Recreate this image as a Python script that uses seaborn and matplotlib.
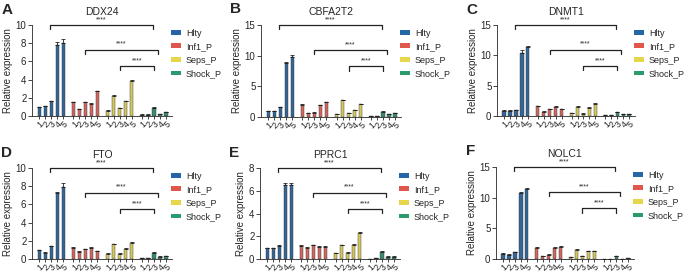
import numpy as np
import pandas as pd
import matplotlib
matplotlib.use('Agg')
import matplotlib.pyplot as plt
import seaborn as sns
from matplotlib.patches import Patch

sns.set_style('ticks')
plt.rcParams['font.family'] = ['Liberation Sans', 'DejaVu Sans']

# groups and colours
groups = ['Hlty', 'Inf1_P', 'Seps_P', 'Shock_P']
palette = ['#2466a6', '#e2574c', '#e6d64b', '#2b9a6c']
bar_labels = ['1', '2', '3', '4', '5']

genes = ['DDX24', 'CBFA2T2', 'DNMT1', 'FTO', 'PPRC1', 'NOLC1']
letters = ['A', 'B', 'C', 'D', 'E', 'F']
ymax = [10, 15, 15, 10, 8, 15]
ystep = [2, 5, 5, 2, 2, 5]

# values (Hlty, Inf1_P, Seps_P, Shock_P; 5 bars each)
ddx24 = [0.95, 1.05, 1.6, 7.8, 8.0,  1.5, 0.75, 1.5, 1.35, 2.7,
         0.6, 2.2, 0.85, 1.6, 3.9,  0.15, 0.15, 0.9, 0.2, 0.4]
cbfa2t2 = [0.9, 0.9, 1.6, 8.8, 9.8,  2.0, 0.6, 0.7, 1.9, 2.4,
           0.5, 2.7, 0.6, 1.1, 2.1,  0.15, 0.2, 0.8, 0.45, 0.6]
dnmt1 = [0.9, 0.9, 1.0, 10.4, 11.3,  1.6, 0.7, 1.1, 1.5, 1.1,
         0.5, 1.5, 0.4, 1.4, 2.0,  0.1, 0.2, 0.6, 0.3, 0.3]
fto = [0.95, 0.7, 1.4, 7.2, 7.9,  1.25, 0.8, 1.1, 1.25, 0.85,
       0.6, 1.6, 0.6, 1.15, 1.8,  0.1, 0.1, 0.7, 0.25, 0.3]
pprc1 = [0.95, 0.95, 1.15, 6.5, 6.5,  1.15, 1.0, 1.2, 1.05, 1.05,
         0.5, 1.2, 0.55, 1.25, 2.25,  0.03, 0.05, 0.65, 0.2, 0.2]
nolc1 = [0.85, 0.7, 1.1, 10.8, 11.4,  1.8, 0.45, 0.7, 1.8, 2.0,
         0.35, 1.5, 0.5, 1.25, 1.3,  0.02, 0.02, 0.5, 0.02, 0.1]

ddx24_err = [0.05, 0.05, 0.1, 0.3, 0.5,  0.05, 0.05, 0.05, 0.05, 0.05,
             0.05, 0.1, 0.05, 0.05, 0.1,  0.02, 0.02, 0.05, 0.02, 0.05]
cbfa2t2_err = [0.1, 0.1, 0.1, 0.2, 0.3,  0.1, 0.05, 0.05, 0.1, 0.1,
               0.05, 0.15, 0.05, 0.1, 0.1,  0.03, 0.03, 0.1, 0.05, 0.05]
dnmt1_err = [0.05, 0.05, 0.05, 0.4, 0.2,  0.1, 0.05, 0.05, 0.1, 0.1,
             0.05, 0.1, 0.05, 0.1, 0.1,  0.02, 0.03, 0.05, 0.03, 0.03]
fto_err = [0.05, 0.05, 0.05, 0.15, 0.5,  0.05, 0.05, 0.05, 0.05, 0.05,
           0.05, 0.1, 0.05, 0.05, 0.1,  0.02, 0.02, 0.05, 0.03, 0.03]
pprc1_err = [0.05, 0.05, 0.05, 0.15, 0.15,  0.05, 0.05, 0.05, 0.05, 0.05,
             0.05, 0.05, 0.05, 0.05, 0.08,  0.01, 0.02, 0.05, 0.02, 0.02]
nolc1_err = [0.1, 0.1, 0.1, 0.2, 0.2,  0.1, 0.05, 0.05, 0.1, 0.1,
             0.05, 0.1, 0.05, 0.05, 0.05,  0.01, 0.01, 0.05, 0.01, 0.02]

values = [ddx24, cbfa2t2, dnmt1, fto, pprc1, nolc1]
errors = [ddx24_err, cbfa2t2_err, dnmt1_err, fto_err, pprc1_err, nolc1_err]

# brackets: (group_a, bar_a, group_b, bar_b, height as fraction of ymax)
brackets = [(0, 1.8, 3, 1.8, 1.0), (1, 2.0, 3, 2.6, 0.73), (2, 2.0, 3, 2.0, 0.55)]

group_step = 5.7


def xpos(g, i):
    return g * group_step + i


xs = [xpos(g, i) for g in range(4) for i in range(5)]
hue = [grp for grp in groups for _ in range(5)]

fig = plt.figure(figsize=(6.85, 2.73), dpi=100)
lefts = [32, 261, 497, 32, 260, 496]
rights = [172, 401, 635, 172, 400, 634]
tops = [25, 25, 25, 168, 168, 167]
bottoms = [116, 117, 116, 259, 259, 259]

for k in range(6):
    l, r, t, b = lefts[k], rights[k], tops[k], bottoms[k]
    ax = fig.add_axes([l / 685, 1 - b / 273, (r - l) / 685, (b - t) / 273])
    df = pd.DataFrame({'x': xs, 'y': values[k], 'group': hue})
    sns.barplot(data=df, x='x', y='y', hue='group', palette=palette, native_scale=True,
                dodge=False, width=0.55, errorbar=None, legend=False, ax=ax,
                edgecolor='#333333', linewidth=0.3)
    ax.errorbar(xs, values[k], yerr=[np.zeros(20), errors[k]], fmt='none',
                ecolor='#222222', elinewidth=0.6, capsize=1.2, capthick=0.6)
    ax.set_xlim(-1.2, xpos(3, 4) + 1.0)
    ax.set_ylim(0, ymax[k])
    ax.set_yticks(np.arange(0, ymax[k] + 0.1, ystep[k]))
    ax.set_xticks(xs)
    ax.set_xticklabels(bar_labels * 4, rotation=45, ha='right', va='top',
                       rotation_mode='anchor', fontsize=6.3)
    ax.tick_params(axis='y', labelsize=7, length=3, width=0.6, pad=1)
    ax.tick_params(axis='x', length=2, width=0.6, pad=0.5)
    ax.set_xlabel('')
    ax.set_ylabel('Relative expression', fontsize=7, labelpad=2)
    for s in ['top', 'right']:
        ax.spines[s].set_visible(False)
    for s in ['left', 'bottom']:
        ax.spines[s].set_linewidth(0.6)
    ax.set_title(genes[k], fontsize=7.5, pad=7)
    ax.text(-0.22, 1.17, letters[k], transform=ax.transAxes, fontsize=11,
            fontweight='bold', ha='left', va='center')

    tick = ymax[k] * 0.045
    for ga, ba, gb, bb, frac in brackets:
        x1, x2 = xpos(ga, ba), xpos(gb, bb)
        yb = ymax[k] * frac
        ax.plot([x1, x1, x2, x2], [yb - tick, yb, yb, yb - tick], color='#222222',
                lw=0.9, clip_on=False)
        ax.text((x1 + x2) / 2, yb + ymax[k] * 0.02, '****', ha='center', va='bottom',
                fontsize=5)

    handles = [Patch(facecolor=c, edgecolor='none') for c in palette]
    ax.legend(handles, groups, loc='upper left', bbox_to_anchor=(0.97, 1.0),
              frameon=False, fontsize=6.5, handlelength=1.1, handleheight=0.45,
              handletextpad=0.5, labelspacing=0.5, borderaxespad=0)

fig.savefig('out.png', dpi=100)
